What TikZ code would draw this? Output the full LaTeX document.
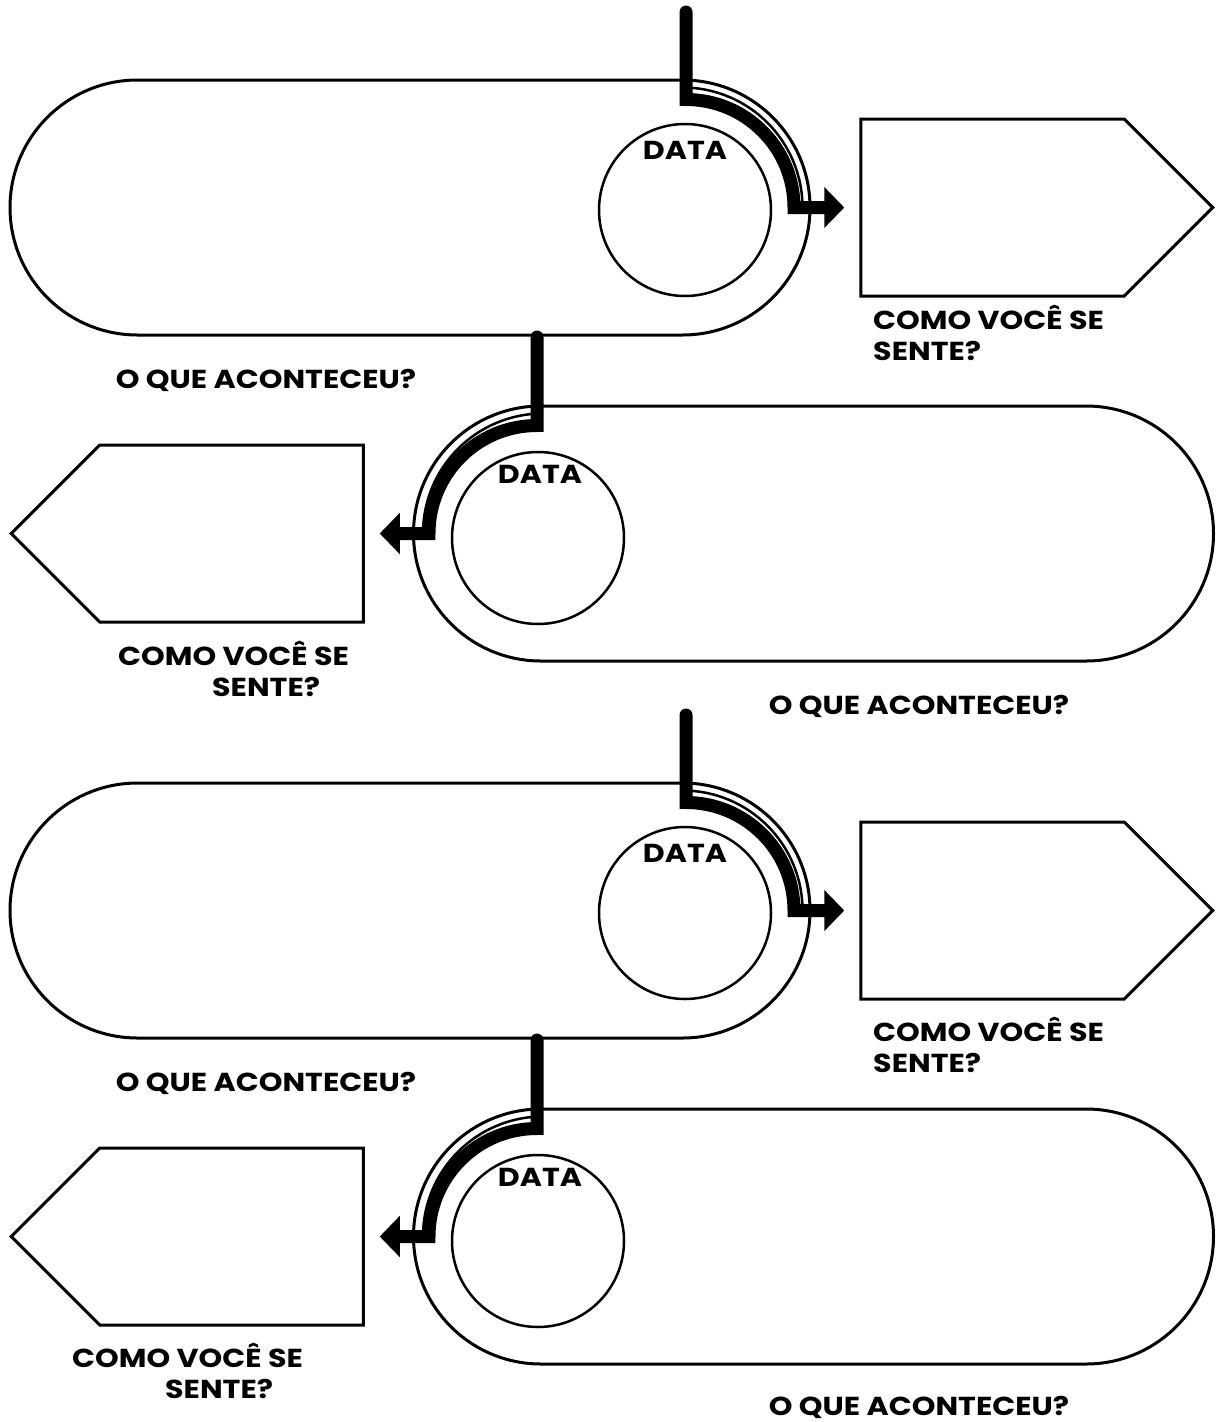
\documentclass[tikz,border=0pt]{standalone}
\usepackage{fontspec}
\setmainfont{Poppins}
\newfontfamily\comicfont{Poppins}[FakeStretch=1.16]
\usetikzlibrary{shapes.misc, shapes.symbols, arrows.meta}
\tikzstyle{pill} = [rounded rectangle, draw, line width=3pt, minimum width=800pt, minimum height=255pt, inner sep=0pt]
\tikzstyle{datecircle} = [circle, draw, line width=2.5pt, minimum size=172pt, inner sep=0pt]
\tikzstyle{feeling} = [signal, draw, line width=3pt, signal pointer angle=90, minimum width=352pt, minimum height=177pt, inner sep=0pt]
\tikzstyle{caption} = [font=\comicfont\bfseries\fontsize{26}{31}\selectfont, inner sep=0pt, align=left]
\tikzstyle{band} = [line width=13pt, line cap=round, -{Triangle[width=40pt,length=20pt]}, shorten >=15pt]
\tikzstyle{rim} = [line width=2.5pt]

\begin{document}
\begin{tikzpicture}[x=1pt, y=1pt]
            \useasboundingbox (0,0) rectangle (1223,-1422);

            % first pair
            \node [pill] at (410,-207.5) (pill1) {};
            \node [datecircle] at (685,-210) (date1) {};
            \node [caption] at (685,-150) (datelabel1) {DATA};
            \node [feeling, signal to=east] at (992.5,-207.5) (sig1) {};
            \node [caption, anchor=west] at (873,-333) (feel1) {COMO VOCÊ SE\\SENTE?};
            \node [caption] at (266,-380) (event1) {O QUE ACONTECEU?};
            \coordinate (top1) at (686,-12);
            \draw [rim] (682.5,-87.5) arc[start angle=90, end angle=0, radius=120];
            \draw [band] (top1) -- ++(0,-87.5) arc[start angle=90, end angle=0, radius=108] -- (sig1.west);

            \node [pill] at (813.5,-533.5) (pill2) {};
            \node [datecircle] at (538,-538) (date2) {};
            \node [caption] at (540,-474) (datelabel2) {DATA};
            \node [feeling, signal to=west] at (231.5,-533.5) (sig2) {};
            \node [caption, anchor=west] at (118,-669) (feel2) {COMO VOCÊ SE\\\hspace*{94pt}SENTE?};
            \node [caption] at (919,-706) (event2) {O QUE ACONTECEU?};
            \coordinate (top2) at (537,-337);
            \draw [rim] (543,-413.5) arc[start angle=90, end angle=180, radius=120];
            \draw [band] (top2) -- ++(0,-88.5) arc[start angle=90, end angle=180, radius=108] -- (sig2.east);

            % second pair
            \node [pill] at (410,-910.5) (pill3) {};
            \node [datecircle] at (685,-913) (date3) {};
            \node [caption] at (685,-853) (datelabel3) {DATA};
            \node [feeling, signal to=east] at (992.5,-910.5) (sig3) {};
            \node [caption, anchor=west] at (873,-1045) (feel3) {COMO VOCÊ SE\\SENTE?};
            \node [caption] at (266,-1083) (event3) {O QUE ACONTECEU?};
            \coordinate (top3) at (686,-715);
            \draw [rim] (682.5,-790.5) arc[start angle=90, end angle=0, radius=120];
            \draw [band] (top3) -- ++(0,-87.5) arc[start angle=90, end angle=0, radius=108] -- (sig3.west);

            \node [pill] at (813.5,-1236.5) (pill4) {};
            \node [datecircle] at (538,-1241) (date4) {};
            \node [caption] at (540,-1177) (datelabel4) {DATA};
            \node [feeling, signal to=west] at (231.5,-1236.5) (sig4) {};
            \node [caption, anchor=west] at (72,-1371) (feel4) {COMO VOCÊ SE\\\hspace*{93pt}SENTE?};
            \node [caption] at (919,-1407) (event4) {O QUE ACONTECEU?};
            \coordinate (top4) at (537,-1040);
            \draw [rim] (543,-1116.5) arc[start angle=90, end angle=180, radius=120];
            \draw [band] (top4) -- ++(0,-88.5) arc[start angle=90, end angle=180, radius=108] -- (sig4.east);
\end{tikzpicture}
\end{document}
